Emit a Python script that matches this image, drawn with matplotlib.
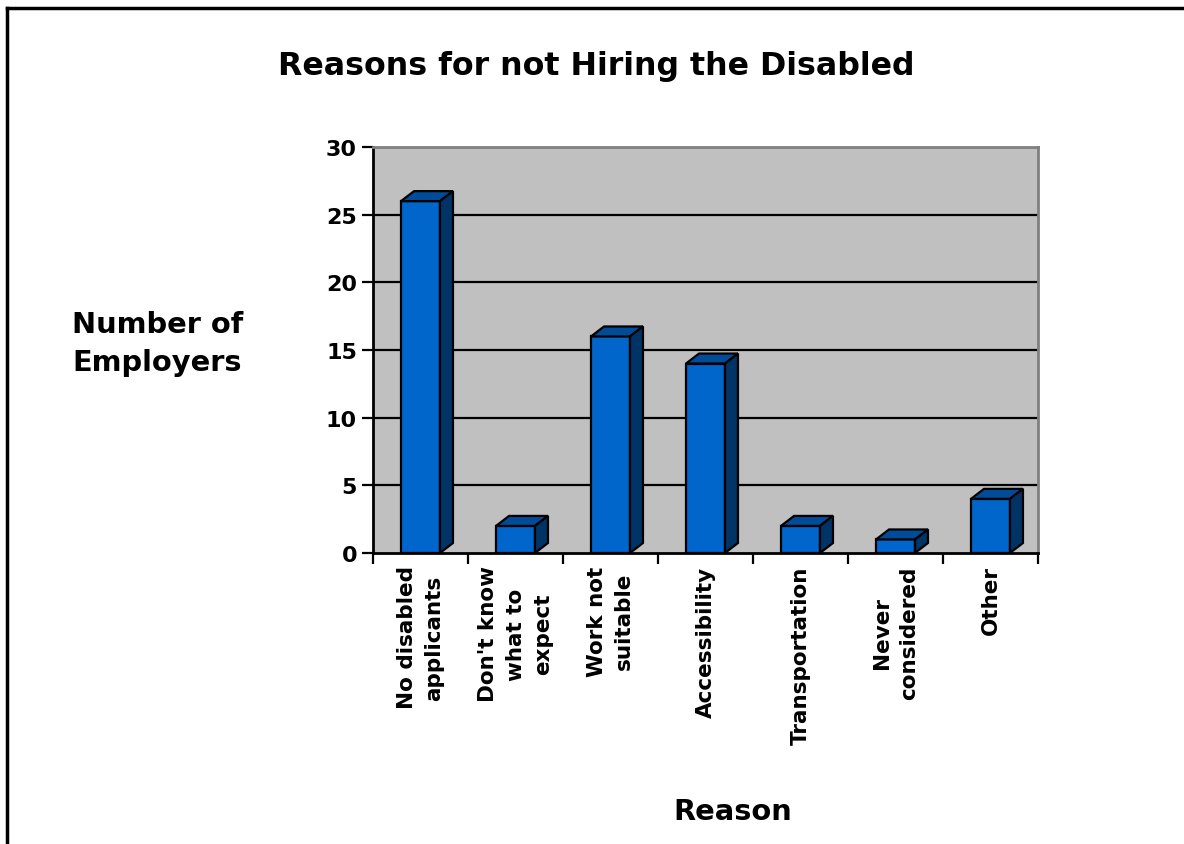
import matplotlib
matplotlib.use('Agg')
import matplotlib.pyplot as plt
from matplotlib.patches import Polygon
from matplotlib.lines import Line2D

categories = ["No disabled\napplicants", "Don't know\nwhat to\nexpect", "Work not\nsuitable",
              "Accessibility", "Transportation", "Never\nconsidered", "Other"]
counts = [26, 2, 16, 14, 2, 1, 4]
y_ticks = [0, 5, 10, 15, 20, 25, 30]

FRONT = '#0066CC'
TOP = '#004C99'
SIDE = '#003366'
WALL = '#C0C0C0'

plt.rcParams['font.family'] = 'DejaVu Sans'
plt.rcParams['font.weight'] = 'bold'

fig = plt.figure(figsize=(11.84, 8.45), dpi=100)
fig.patch.set_facecolor('white')

# outer frame (only top and left edges are visible)
fig.add_artist(Line2D([6.5 / 1184, 6.5 / 1184], [0, 1 - 8.5 / 845], color='black', lw=2.5,
                      transform=fig.transFigure))
fig.add_artist(Line2D([6.5 / 1184, 1], [1 - 8.5 / 845, 1 - 8.5 / 845], color='black', lw=2.5,
                      transform=fig.transFigure))

ax = fig.add_axes([373 / 1184, 1 - 554 / 845, (1038 - 373) / 1184, (554 - 148) / 845])
ax.set_facecolor(WALL)
ax.set_xlim(0, len(categories))
ax.set_ylim(0, 30)

for y in y_ticks[1:-1]:
    ax.axhline(y, color='black', lw=1.6, zorder=1)

# 3D depth offset, in pixels converted to data units
px_x = len(categories) / (1038 - 373)
px_y = 30 / (554 - 148)
dx, dy = 13 * px_x, 10 * px_y
width = 0.41

for i, v in enumerate(counts):
    x0 = i + 0.5 - width / 2
    x1 = x0 + width
    ax.bar(i + 0.5, v, width, color=FRONT, edgecolor='black', lw=1.6, zorder=3)
    top = Polygon([(x0, v), (x0 + dx, v + dy), (x1 + dx, v + dy), (x1, v)],
                  closed=True, facecolor=TOP, edgecolor='black', lw=1.6, zorder=3)
    side = Polygon([(x1, 0), (x1 + dx, dy), (x1 + dx, v + dy), (x1, v)],
                   closed=True, facecolor=SIDE, edgecolor='black', lw=1.6, zorder=3)
    ax.add_patch(top)
    ax.add_patch(side)

for s in ['top', 'right']:
    ax.spines[s].set_color('#808080')
    ax.spines[s].set_linewidth(2)
for s in ['left', 'bottom']:
    ax.spines[s].set_color('black')
    ax.spines[s].set_linewidth(2)

ax.set_yticks(y_ticks)
ax.tick_params(axis='y', direction='out', length=8, width=1.6, labelsize=16, pad=3.5)
ax.set_xticks([i + 0.5 for i in range(len(categories))])
ax.set_xticklabels(categories, rotation=90, fontsize=15.5, va='top', ha='center',
                   multialignment='center', linespacing=1.45)
ax.set_xticks(range(len(categories) + 1), minor=True)
ax.tick_params(axis='x', which='major', length=0, pad=9)
ax.tick_params(axis='x', which='minor', direction='out', length=8, width=1.6)

fig.text(596 / 1184, 1 - 67 / 845, 'Reasons for not Hiring the Disabled', ha='center',
         va='center', fontsize=22.8, fontweight='bold')
fig.text(158 / 1184, 1 - 344 / 845, 'Number of\nEmployers', ha='center', va='center',
         fontsize=20.8, fontweight='bold', multialignment='left', linespacing=1.45)
fig.text(733 / 1184, 1 - 812 / 845, 'Reason', ha='center', va='center', fontsize=20.8,
         fontweight='bold')

fig.savefig('out.png', dpi=100, facecolor='white')
